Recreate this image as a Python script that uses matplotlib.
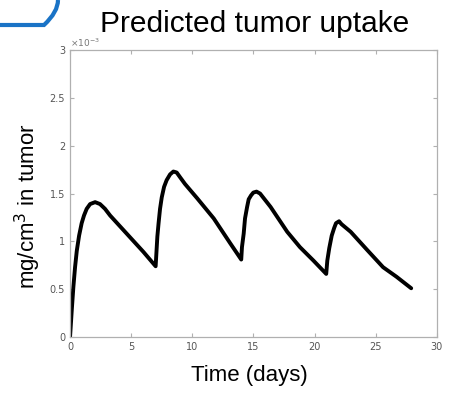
import matplotlib.pyplot as plt
from matplotlib.ticker import FuncFormatter
from matplotlib.path import Path
from matplotlib.patches import PathPatch

# time (days) and tumor uptake (x1e-3 mg/cm^3)
days = [0, 0.14, 0.27, 0.41, 0.55, 0.74, 0.95, 1.14, 1.36, 1.64,
        2.05, 2.45, 2.86, 3.28, 4.64, 6.0, 7.0,
        7.14, 7.24, 7.36, 7.5, 7.69, 7.9, 8.18, 8.45, 8.72, 9.0,
        9.4, 9.8, 10.4, 11.75, 13.1, 14.0,
        14.06, 14.2, 14.31, 14.48, 14.61, 14.8, 14.99, 15.25, 15.54,
        16.4, 17.76, 18.8, 19.9, 20.95,
        21.04, 21.2, 21.4, 21.6, 21.75, 22.0, 22.2, 22.95, 24.3,
        25.6, 26.7, 27.9]
uptake = [0, 0.28, 0.52, 0.73, 0.90, 1.06, 1.19, 1.27, 1.34, 1.39,
          1.41, 1.39, 1.34, 1.27, 1.08, 0.89, 0.74,
          1.05, 1.19, 1.34, 1.46, 1.57, 1.64, 1.70, 1.73, 1.72, 1.67,
          1.60, 1.54, 1.45, 1.24, 0.98, 0.81,
          0.94, 1.08, 1.24, 1.36, 1.44, 1.48, 1.51, 1.52, 1.50,
          1.36, 1.10, 0.94, 0.80, 0.66,
          0.80, 0.93, 1.06, 1.14, 1.19, 1.21, 1.18, 1.10, 0.91,
          0.73, 0.63, 0.51]
uptake = [u * 1e-3 for u in uptake]

x_ticks = [0, 5, 10, 15, 20, 25, 30]
y_ticks = [0, 0.5e-3, 1e-3, 1.5e-3, 2e-3, 2.5e-3, 3e-3]

fig = plt.figure(figsize=(4.49, 3.97), dpi=100)
ax = fig.add_axes([0.156, 0.151, 0.817, 0.723])

ax.plot(days, uptake, color="black", linewidth=2.8,
        solid_joinstyle="round", solid_capstyle="round")

ax.set_xlim(0, 30)
ax.set_ylim(0, 3e-3)
ax.set_xticks(x_ticks)
ax.set_yticks(y_ticks)
ax.yaxis.set_major_formatter(FuncFormatter(lambda v, p: f"{v * 1e3:g}"))
ax.tick_params(direction="in", length=3, width=0.8, colors="#b0b0b0",
               labelcolor="#555555", labelsize=7, top=True, right=True)
for s in ax.spines.values():
    s.set_color("#b0b0b0")
    s.set_linewidth(0.9)

ax.text(0.0, 1.005, r"$\times10^{-3}$", transform=ax.transAxes,
        fontsize=6.5, color="#777777", ha="left", va="bottom")

ax.set_xlabel("Time (days)", fontsize=16, family="Liberation Sans")
ax.xaxis.set_label_coords(0.488, -0.098)
ax.set_ylabel("mg/cm$^3$ in tumor", fontsize=16, family="Liberation Sans")
ax.yaxis.set_label_coords(-0.0736, 0.456)
fig.text(0.568, 0.919, "Predicted tumor uptake", fontsize=21.5,
         family="Liberation Sans", ha="center", va="baseline")

# blue frame corner at top left
w, h = 449, 397
verts = [(0, 1 - 25 / h), (44 / w, 1 - 25 / h), (58 / w, 1 - 12 / h), (58 / w, 1.0)]
path = Path(verts, [Path.MOVETO, Path.LINETO, Path.CURVE3, Path.CURVE3])
fig.patches.append(PathPatch(path, transform=fig.transFigure, fill=False,
                             edgecolor="#1a73c6", linewidth=3))

fig.savefig("out.png", dpi=100)
